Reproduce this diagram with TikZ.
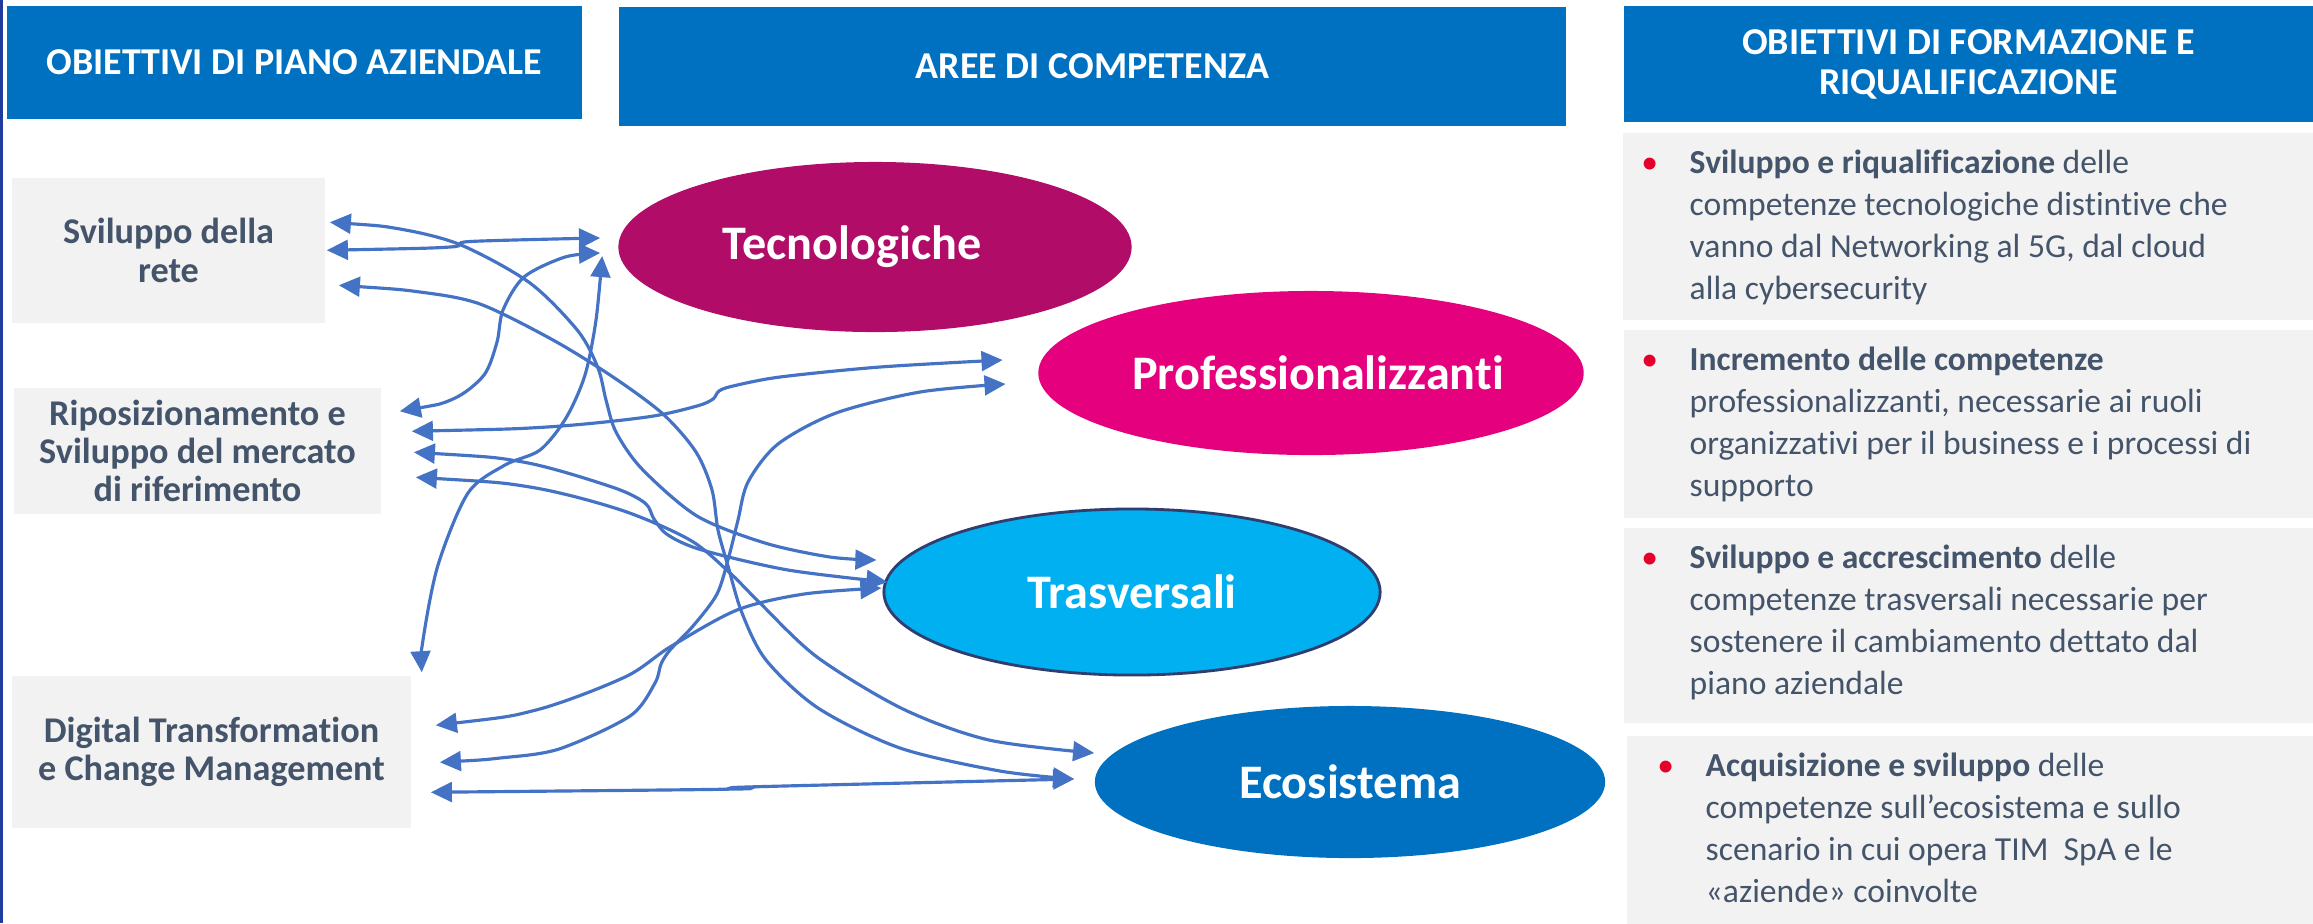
\documentclass[tikz,border=0pt]{standalone}
\usepackage{fontspec}
\setmainfont[Ligatures=NoCommon]{Carlito}
\usetikzlibrary{shapes.geometric,arrows.meta}
\definecolor{timblue}{HTML}{0070C0}
\definecolor{panelgrey}{HTML}{F2F2F2}
\definecolor{slate}{HTML}{44546A}
\definecolor{tecno}{HTML}{B00C68}
\definecolor{profes}{HTML}{E5007E}
\definecolor{trasv}{HTML}{00B0F0}
\definecolor{trasvline}{HTML}{2F3E6E}
\definecolor{linkblue}{HTML}{4472C4}
\definecolor{dotred}{HTML}{E4002B}
\definecolor{edgeblue}{HTML}{1F3B9E}
\begin{document}
\begin{tikzpicture}[x=0.01cm,y=-0.01cm]
\tikzstyle{head} = [rectangle, fill=timblue, text=white, font=\fontsize{10.8}{11.4}\selectfont\bfseries, align=center, inner sep=0pt]
\tikzstyle{goal} = [rectangle, fill=panelgrey, text=slate, font=\fontsize{10.3}{10.9}\selectfont\bfseries, align=center, inner sep=0pt]
\tikzstyle{area} = [ellipse, text=white, font=\fontsize{13.7}{15}\selectfont\bfseries, inner sep=0pt]
\tikzstyle{panel} = [rectangle, fill=panelgrey, anchor=north west, inner sep=0pt, minimum width=6.91cm]
\tikzstyle{note} = [anchor=north west, align=left, inner sep=0pt, text=slate, font=\fontsize{9.55}{11.95}\selectfont]
\tikzstyle{link} = [draw=linkblue, line width=0.9pt, >={Triangle[length=6pt,width=5.6pt]}, <->]
\newcommand{\dotmark}{\strut\llap{\textcolor{dotred}{•}\hspace{9pt}}}
%
\useasboundingbox (0,0) rectangle (2313,923);
\fill[white] (0,0) rectangle (2313,923);
\draw[edgeblue, line width=0.9pt] (1.5,0) -- (1.5,923);
%
\node (h1) [head, minimum width=5.75cm, minimum height=1.13cm] at (294.5,62.5) {OBIETTIVI DI PIANO AZIENDALE};
\node (h2) [head, minimum width=9.47cm, minimum height=1.19cm] at (1092.5,66.5) {AREE DI COMPETENZA};
\node (h3) [head, minimum width=6.89cm, minimum height=1.16cm] at (1968.5,64) {OBIETTIVI DI FORMAZIONE E\\RIQUALIFICAZIONE};
%
\node (l1) [goal, minimum width=3.13cm, minimum height=1.45cm] at (168.5,250.5) {Sviluppo della\\rete};
\node (l2) [goal, minimum width=3.67cm, minimum height=1.26cm] at (197.5,451) {Riposizionamento e\\Sviluppo del mercato\\di riferimento};
\node (l3) [goal, minimum width=3.99cm, minimum height=1.52cm] at (211.5,752) {Digital Transformation\\e Change Management};
%
\node (tec)  [area, fill=tecno, minimum width=5.13cm, minimum height=1.70cm] at (875,247) {\raisebox{2.5pt}{Tecnologiche}\hspace*{13pt}};
\node (prof) [area, fill=profes, minimum width=5.08cm, minimum height=1.64cm] at (1311,373) {\hspace*{4pt}Professionalizzanti};
\node (tras) [area, fill=trasv, draw=trasvline, line width=0.8pt, minimum width=4.96cm, minimum height=1.66cm] at (1132,592) {Trasversali};
\node (eco)  [area, fill=timblue, minimum width=5.10cm, minimum height=1.52cm] at (1350,782) {Ecosistema};
%
\node (r1) [panel, minimum height=1.87cm] at (1622,132) {};
\node (r2) [panel, minimum height=1.88cm] at (1623,329) {};
\node (r3) [panel, minimum height=1.95cm] at (1623,527) {};
\node (r4) [panel, minimum width=6.87cm, minimum height=1.88cm] at (1626,735) {};
\node (n1) [note] at ([shift={(67,11)}]r1.north west) {\dotmark\textbf{Sviluppo e riqualificazione} delle\\competenze tecnologiche distintive che\\vanno dal Networking al 5G, dal cloud\\alla cybersecurity};
\node (n2) [note] at ([shift={(66,11.5)}]r2.north west) {\dotmark\textbf{Incremento delle competenze}\\professionalizzanti, necessarie ai ruoli\\organizzativi per il business e i processi di\\supporto};
\node (n3) [note] at ([shift={(66,11.5)}]r3.north west) {\dotmark\textbf{Sviluppo e accrescimento} delle\\competenze trasversali necessarie per\\sostenere il cambiamento dettato dal\\piano aziendale};
\node (n4) [note] at ([shift={(79,11)}]r4.north west) {\dotmark\textbf{Acquisizione e sviluppo} delle\\competenze sull’ecosistema e sullo\\scenario in cui opera TIM\ \ SpA e le\\«aziende» coinvolte};
%
\coordinate (l1a) at ([shift={(4,45)}]l1.north east);
\coordinate (l1b) at ([shift={(1,73)}]l1.north east);
\coordinate (l1c) at ([shift={(13,108)}]l1.north east);
\coordinate (l2a) at ([shift={(18,24)}]l2.north east);
\coordinate (l2b) at ([shift={(30,44)}]l2.north east);
\coordinate (l2c) at ([shift={(32,65)}]l2.north east);
\coordinate (l2d) at ([shift={(34,90)}]l2.north east);
\coordinate (l3t) at ([shift={(10,-3)}]l3.north east);
\coordinate (l3a) at ([shift={(24,50)}]l3.north east);
\coordinate (l3b) at ([shift={(28,87)}]l3.north east);
\coordinate (l3c) at ([shift={(19,117)}]l3.north east);
\coordinate (tec1) at ([shift={(-17.5,-9)}]tec.west);
\coordinate (tec2) at ([shift={(-17.5,6)}]tec.west);
\coordinate (tec3) at ([shift={(-15.5,9)}]tec.west);
\coordinate (prof1) at ([shift={(-35,-13)}]prof.west);
\coordinate (prof2) at ([shift={(-32,11)}]prof.west);
\coordinate (tras1) at ([shift={(-6,-32)}]tras.west);
\coordinate (tras2) at ([shift={(5,-10)}]tras.west);
\coordinate (tras3) at ([shift={(-1,-4)}]tras.west);
\coordinate (eco1) at ([shift={(0,-29)}]eco.west);
\coordinate (eco2) at ([shift={(-20,-3)}]eco.west);
%
\draw [link] plot[smooth] coordinates {(l1b) (450,247) (470,241.5) (tec1)};
\draw [link] plot[smooth] coordinates {(l2a) (453,399) (484,375) (497,342) (503,310) (524,277) (565,257) (tec2)};
\draw [link] plot[smooth] coordinates {(l3t) (423,640) (438,565) (468,493) (505,465) (540,450) (566,418) (585,375) (596,320) (tec3)};
\draw [link] plot[smooth] coordinates {(l1a) (400,229) (461,245) (530,283) (578,331) (598,368) (606,400) (616,432) (642,469) (697,516) (765,543) (830,557) (tras1)};
\draw [link] plot[smooth] coordinates {(l1c) (420,292) (480,304) (553,340) (613,377) (663,414) (696,452) (712,490) (718,530) (728,566) (742,613) (766,660) (818,708) (900,748) (1000,771) (eco2)};
\draw [link] plot[smooth] coordinates {(l2b) (547,427) (647,417) (697,406) (713,399) (719,391) (733,386) (780,377) (880,367) (prof1)};
\draw [link] plot[smooth] coordinates {(l3b) (500,758) (559,749) (630,716) (655,683) (661,664) (670,650) (693,626) (717,594) (729,556) (738,520) (748,482) (778,444) (836,413) (920,392) (prof2)};
\draw [link] plot[smooth] coordinates {(l2c) (523,462) (612,487) (645,503) (654,519) (668,535) (702,550) (788,570) (tras2)};
\draw [link] plot[smooth] coordinates {(l2d) (530,487) (621,510) (690,540) (730,573) (759,602) (817,657) (903,709) (989,740) (eco1)};
\draw [link] plot[smooth] coordinates {(l3a) (536,710) (625,677) (670,647) (737,610) (804,594) (tras3)};
\draw [link] plot[smooth] coordinates {(l3c) (737,789) (746,787) (eco2)};
\end{tikzpicture}
\end{document}
